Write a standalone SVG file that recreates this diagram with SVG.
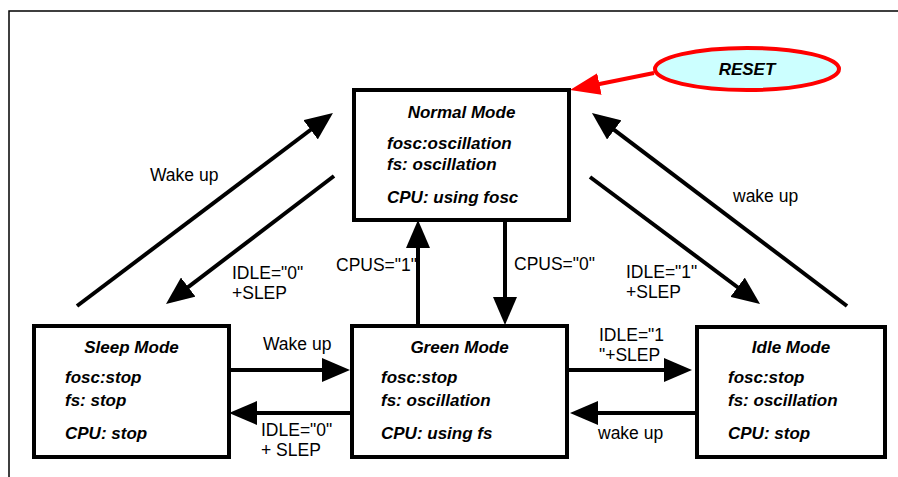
<svg xmlns="http://www.w3.org/2000/svg" width="898" height="477" viewBox="0 0 898 477">
<style>
.box{fill:#fff;stroke:#000;stroke-width:4}
.t{font-family:"Liberation Sans",Arial,sans-serif;font-weight:bold;font-style:italic;font-size:17px;fill:#000}
.ttl{text-anchor:middle}
.lbl{font-family:"Liberation Sans",Arial,sans-serif;font-size:17.5px;fill:#000}
.ln{stroke:#000;stroke-width:4;fill:none;marker-end:url(#ah)}
</style>
<defs>
<marker id="ah" markerUnits="userSpaceOnUse" viewBox="0 0 28 24" markerWidth="28" markerHeight="24" refX="8" refY="12" orient="auto">
<path d="M0,0 L28,12 L0,24 z" fill="#000"/>
</marker>
<marker id="ahr" markerUnits="userSpaceOnUse" viewBox="0 0 30 22" markerWidth="30" markerHeight="22" refX="10" refY="11" orient="auto">
<path d="M0,0 L30,11 L0,22 z" fill="#ff0000"/>
</marker>
</defs>
<rect width="898" height="477" fill="#fff"/>
<path d="M9,477 V11 H898" fill="none" stroke="#000" stroke-width="1.5"/>

<g id="connectors">
<line class="ln" x1="77" y1="306" x2="317" y2="125"/>
<line class="ln" x1="334" y1="176" x2="181.9" y2="291.9"/>
<line class="ln" x1="590" y1="177" x2="744" y2="292"/>
<line class="ln" x1="847" y1="306" x2="607.9" y2="125.1"/>
<line class="ln" x1="418" y1="326" x2="418" y2="240"/>
<line class="ln" x1="505" y1="220" x2="505" y2="305"/>
<line class="ln" x1="229" y1="370" x2="330" y2="370"/>
<line class="ln" x1="352" y1="413" x2="249" y2="413"/>
<line class="ln" x1="567" y1="370" x2="672" y2="370"/>
<line class="ln" x1="697" y1="413" x2="590" y2="413"/>
<line x1="654" y1="73" x2="589.6" y2="86" stroke="#ff0000" stroke-width="4" marker-end="url(#ahr)"/>
<text class="lbl" x="150" y="181">Wake up</text>
<text class="lbl" x="232" y="279">IDLE="0"</text>
<text class="lbl" x="232" y="299">+SLEP</text>
<text class="lbl" x="336" y="271">CPUS="1"</text>
<text class="lbl" x="514" y="270">CPUS="0"</text>
<text class="lbl" x="626" y="278">IDLE="1"</text>
<text class="lbl" x="626" y="298">+SLEP</text>
<text class="lbl" x="733" y="202">wake up</text>
<text class="lbl" x="263" y="350">Wake up</text>
<text class="lbl" x="261" y="436">IDLE="0"</text>
<text class="lbl" x="261" y="456">+ SLEP</text>
<text class="lbl" x="599" y="341">IDLE="1</text>
<text class="lbl" x="599" y="361">"+SLEP</text>
<text class="lbl" x="598" y="439">wake up</text>
</g>

<g id="reset">
<ellipse cx="747" cy="69" rx="92" ry="21" fill="#ccffff" stroke="#ff0000" stroke-width="4"/>
<text class="t ttl" x="747" y="75" font-size="17.5">RESET</text>
</g>

<g id="normal">
<rect class="box" x="354" y="90" width="215" height="130"/>
<text class="t ttl" x="461.5" y="117.5">Normal Mode</text>
<text class="t" x="387" y="149">fosc:oscillation</text>
<text class="t" x="387" y="169.5">fs: oscillation</text>
<text class="t" x="387" y="203">CPU: using fosc</text>
</g>

<g id="sleep">
<rect class="box" x="34" y="326" width="195" height="131"/>
<text class="t ttl" x="131.5" y="353">Sleep Mode</text>
<text class="t" x="65" y="383">fosc:stop</text>
<text class="t" x="65" y="405.5">fs: stop</text>
<text class="t" x="65" y="438.5">CPU: stop</text>
</g>

<g id="green">
<rect class="box" x="352" y="326" width="215" height="131"/>
<text class="t ttl" x="459.5" y="353">Green Mode</text>
<text class="t" x="381" y="383">fosc:stop</text>
<text class="t" x="381" y="405.5">fs: oscillation</text>
<text class="t" x="381" y="438.5">CPU: using fs</text>
</g>

<g id="idle">
<rect class="box" x="697" y="327" width="188" height="130"/>
<text class="t ttl" x="791" y="353">Idle Mode</text>
<text class="t" x="728" y="383">fosc:stop</text>
<text class="t" x="728" y="405.5">fs: oscillation</text>
<text class="t" x="728" y="438.5">CPU: stop</text>
</g>
</svg>
